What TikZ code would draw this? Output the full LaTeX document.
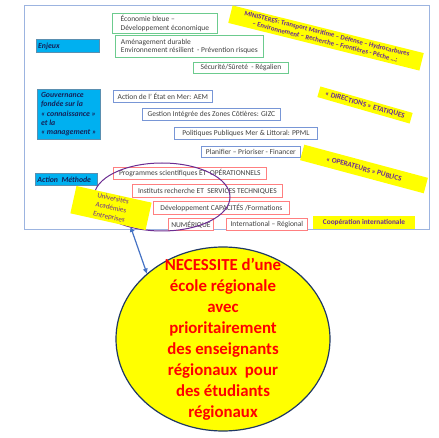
\documentclass[tikz,border=0pt]{standalone}
\usepackage{fontspec}
\setmainfont{Carlito}
\usetikzlibrary{shapes.geometric,calc,arrows.meta}

\definecolor{cadre}{HTML}{9CB4E0}
\definecolor{vert}{HTML}{6CCB8E}
\definecolor{bleu}{HTML}{7896D6}
\definecolor{rouge}{HTML}{FF7F80}
\definecolor{gristxt}{HTML}{404040}
\definecolor{etiqfond}{HTML}{00B0F0}
\definecolor{etiqbord}{HTML}{5A8FB0}
\definecolor{etiqtxt}{HTML}{14235A}
\definecolor{jaune}{HTML}{FFFF00}
\definecolor{mauve}{HTML}{6B2C91}
\definecolor{marine}{HTML}{1F3864}
\definecolor{fleche}{HTML}{4472C4}

\begin{document}
\begin{tikzpicture}[x=1pt,y=-1pt,
    box/.style={draw,fill=white,anchor=north west,inner xsep=1.5pt,inner ysep=1pt,
      align=left,text=gristxt,line width=0.8pt,font=\fontsize{7.5}{8.6}\selectfont},
    vbox/.style={box,draw=vert},
    bbox/.style={box,draw=bleu},
    rbox/.style={box,draw=rouge},
    etiq/.style={draw=etiqbord,line width=0.4pt,fill=etiqfond,anchor=north west,
      inner xsep=2pt,align=left,text=etiqtxt,
      font=\fontsize{7.8}{9.3}\selectfont\bfseries\itshape},
    note/.style={fill=jaune,text=mauve,align=center,inner sep=1pt,
      font=\fontsize{7.3}{8.4}\selectfont\bfseries},
    ecole/.style={ellipse,draw=marine,line width=1.2pt,fill=jaune,
      minimum width=214pt,minimum height=184pt},
    ecoletxt/.style={text=red,align=center,font=\fontsize{16.8}{21}\selectfont\bfseries},
    dblfleche/.style={{Triangle[length=5pt,width=4.5pt]}-{Triangle[length=5pt,width=4.5pt]},
      draw=fleche,line width=1.2pt}]
  \useasboundingbox (0,0) rectangle (439,438);
  \draw[cadre,line width=0.8pt] (24,5) rectangle (429,229);
  % etiquettes
  \node[etiq,minimum width=63pt,minimum height=13pt] (enjeux) at (36,39) {Enjeux\hspace{38pt}};
  \node[etiq,minimum width=63pt,minimum height=50pt] (gouv) at (37,89)
    {Gouvernance\\fondée sur la\\« connaissance »\\et la\\« management »};
  \node[etiq,minimum width=62pt,minimum height=12pt] (action) at (35,173) {Action \ Méthode\hspace{4pt}};
  % enjeux
  \node[vbox,minimum width=105pt,minimum height=20pt] (eco) at (112,13)
    {Économie bleue –\\Développement économique\hspace{10pt}};
  \node[vbox,minimum width=148pt,minimum height=22pt] (amen) at (115,35)
    {Aménagement durable\\Environnement résilient \ - Prévention risques};
  \node[vbox,minimum width=95pt,minimum height=11pt] (secu) at (193,62) {Sécurité/Sûreté \ - Régalien};
  % gouvernance
  \node[bbox,minimum width=99pt,minimum height=12pt] (aem) at (113,90) {Action de l’ État en Mer: AEM};
  \node[bbox,minimum width=138pt,minimum height=12pt] (gizc) at (142,108) {Gestion Intégrée des Zones Côtières: GIZC};
  \node[bbox,minimum width=143pt,minimum height=12pt] (ppml) at (174,127) {Politiques Publiques Mer \& Littoral: PPML};
  \node[bbox,minimum width=99pt,minimum height=11pt] (plan) at (201,146) {Planifier – Prioriser - Financer};
  % action
  \node[rbox,minimum width=153pt,minimum height=12pt] (prog) at (113,167) {Programmes scientifiques ET \ OPÉRATIONNELS};
  \node[rbox,minimum width=150pt,minimum height=13pt] (inst) at (132,184) {Instituts recherche ET \ SERVICES TECHNIQUES};
  \node[rbox,minimum width=136pt,minimum height=13pt] (dev) at (153,201) {Développement CAPACITÉS /Formations};
  \node[rbox,minimum width=45pt,minimum height=12pt] (num) at (168,218) {NUMÉRIQUE};
  \node[rbox,minimum width=81pt,minimum height=12pt] (inter) at (226,218) {International – Régional};
  \node[note,minimum width=102pt,minimum height=13pt] (coop) at (364,222.5) {Coopération internationale};
  % acteurs
  \node[note,font=\fontsize{6.8}{8.2}\selectfont\bfseries,rotate=-14,minimum width=197pt,minimum height=18pt] (minist) at (326,38)
    {MINISTERES: Transport Maritime – Défense – Hydrocarbures\\– Environnement – Recherche – Frontières - Pêche …;};
  \node[note,rotate=-16,minimum width=96pt,minimum height=11pt] (direct) at (365,105) {« DIRECTIONS » ETATIQUES};
  \node[note,rotate=-15,minimum width=128pt,minimum height=16pt] (operat) at (364,169) {« OPERATEURS » PUBLICS};
  \draw[mauve,line width=1pt] (162,197) ellipse [x radius=68, y radius=34];
  \node[note,font=\fontsize{7.1}{9.4}\selectfont,rotate=-12.5,minimum width=77pt,minimum height=28pt] (univ)
    at (111,208) {Universités\\Académies\\Entreprises};
  \node[ecole,label={[ecoletxt]center:{NECESSITE d’une\\école régionale\\avec\\prioritairement\\des enseignants\\régionaux \ pour\\des étudiants\\régionaux}}] (ecole) at (223,339) {};
  \draw[dblfleche] ($(univ.south)!.6!(univ.south east)$) -- (ecole.north west);
\end{tikzpicture}
\end{document}
